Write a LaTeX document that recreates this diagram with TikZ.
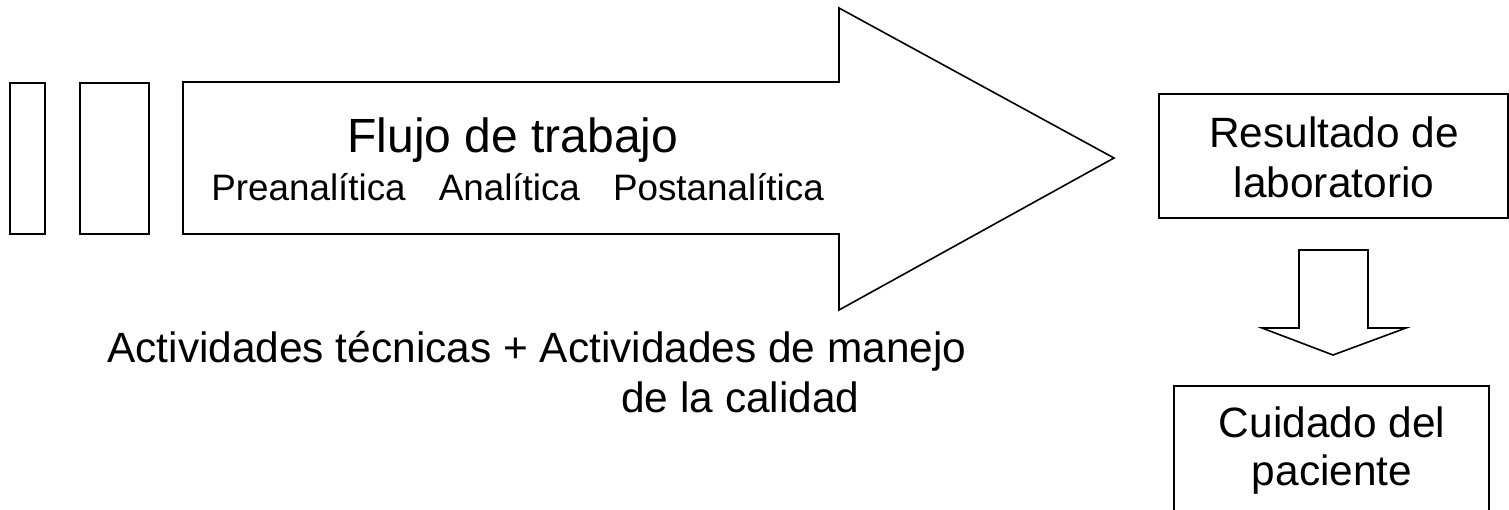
\documentclass[tikz,border=0pt]{standalone}
\usepackage{fontspec}
\setmainfont{Liberation Sans}
\begin{document}
\begin{tikzpicture}[x=0.5pt,y=-0.5pt,
  shape line/.style={draw=black,line width=0.8pt,line join=miter,fill=white},
  txt/.style={inner sep=0pt,anchor=base,text=black},
  txtw/.style={inner sep=0pt,anchor=base west,text=black},
  body/.style={font=\fontsize{21.2pt}{25pt}\selectfont},
  big/.style={font=\fontsize{24pt}{28pt}\selectfont},
  small/.style={font=\fontsize{18.4pt}{22pt}\selectfont}]
\useasboundingbox (0,0) rectangle (1509,509);
\clip (0,0) rectangle (1509,509);
% left bars
\draw[shape line] (10,83) rectangle (45,234);
\draw[shape line] (80,83) rectangle (149,234);
% big arrow
\draw[shape line] (183,82) -- (839,82) -- (839,8) -- (1114,158) -- (839,310) -- (839,234) -- (183,234) -- cycle;
\node[txtw,big] (flujo) at (347,152) {Flujo de trabajo};
\node[txtw,small] (fases) at (211,200) {Preanalítica\hspace{0.9em}Analítica\hspace{0.9em}Postanalítica};
% bottom text
\node[txtw,body] (act1) at (107,362) {Actividades técnicas + Actividades de manejo};
\node[txtw,body] (act2) at (621,412) {de la calidad};
% result box
\node[shape line,rectangle,minimum width=174.5pt,minimum height=62pt,inner sep=0pt] (res) at (1333.5,156) {};
\node[txt,body] (res1) at (1334,147) {Resultado de};
\node[txt,body] (res2) at (1334,197) {laboratorio};
% down arrow
\draw[shape line] (1299,250) -- (1368,250) -- (1368,328) -- (1406,328) -- (1333,355) -- (1262,328) -- (1299,328) -- cycle;
% patient box
\node[shape line,rectangle,minimum width=157.5pt,minimum height=90pt,inner sep=0pt,anchor=north] (care) at (1331.5,385) {};
\node[txt,body] (care1) at (1332,437) {Cuidado del};
\node[txt,body] (care2) at (1332,485) {paciente};
\end{tikzpicture}
\end{document}
